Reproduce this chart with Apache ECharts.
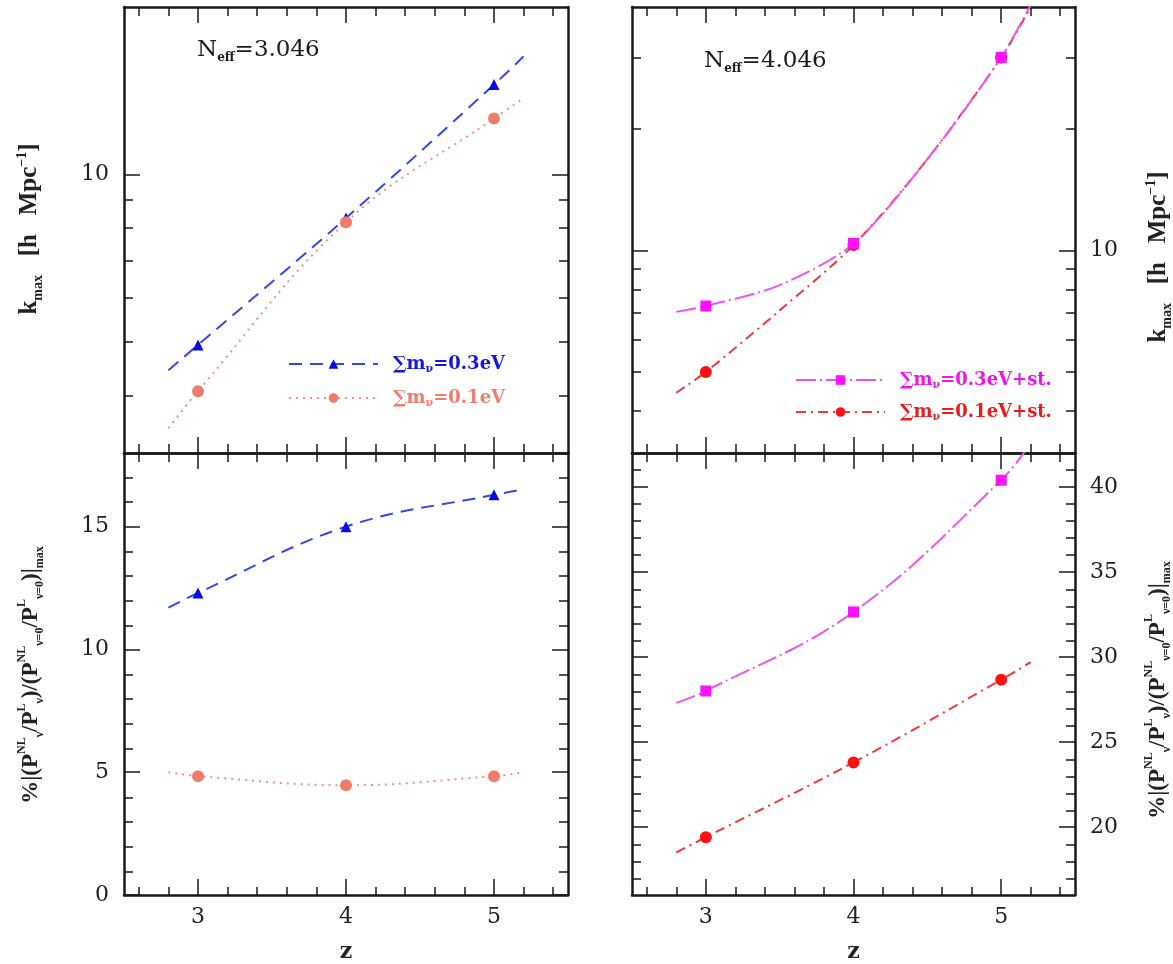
<!DOCTYPE html>
<html>
<head>
<meta charset="utf-8">
<script src="https://cdn.jsdelivr.net/npm/echarts@6/dist/echarts.min.js"></script>
<style>
  html, body { margin: 0; padding: 0; background: #ffffff; }
  #chart { width: 1173px; height: 964px; }
</style>
</head>
<body>
<div id="chart"></div>
<script>
// Redshift samples: curves run from 2.8 to 5.2, measured points sit at 3, 4, 5
const redshift = [2.8, 3, 4, 5, 5.2];
const redshiftSterile = [2.8, 3, 3.5, 4, 4.5, 5, 5.2];
const markedZ = [3, 4, 5];

// k_max [h Mpc^-1], N_eff = 3.046
const kmaxStd03 = [4.44, 4.93, 8.34, 14.5, 16.3];
const kmaxStd01 = [3.49, 4.07, 8.2, 12.6, 13.7];
// k_max [h Mpc^-1], N_eff = 4.046 (with sterile species), sampled on redshiftSterile
const kmaxSt03 = [7.04, 7.28, 8.2, 10.4, 16.8, 30.0, 40.5];
const kmaxSt01 = [4.44, 5.0, 7.1, 10.3, 16.8, 30.0, 40.0];
// suppression percentage at k_max
const pctStd03 = [11.7, 12.3, 15.0, 16.3, 16.5];
const pctStd01 = [5.0, 4.84, 4.47, 4.84, 5.0];
const pctSt03 = [27.3, 28.0, 32.65, 40.4, 42.6];
const pctSt01 = [18.5, 19.4, 23.8, 28.66, 29.7];

// Tick positions
const zMajorTicks = [3, 4, 5];
const zMinorTicks = [2.6, 2.8, 3.2, 3.4, 3.6, 3.8, 4.2, 4.4, 4.6, 4.8, 5.2, 5.4];
const kMajorTicks = [10];
const kMinorTicksLeft = [4, 5, 6, 7, 8, 9];
const kMinorTicksRight = [4, 5, 6, 7, 8, 9, 20, 30];
const pctLeftMajor = [0, 5, 10, 15];
const pctLeftMinor = [1, 2, 3, 4, 6, 7, 8, 9, 11, 12, 13, 14, 16, 17];
const pctRightMajor = [20, 25, 30, 35, 40];
const pctRightMinor = [17, 18, 19, 21, 22, 23, 24, 26, 27, 28, 29, 31, 32, 33, 34, 36, 37, 38, 39, 41];

const SERIF = 'DejaVu Serif';
const TITLE_SERIF = 'Liberation Serif';
const INK = '#1a1a1a';

const panels = [
  { rect: { left: 124, top: 7, width: 444, height: 446 }, yType: 'log', yMin: 3.15, yMax: 20,
    yMajor: kMajorTicks, yMinor: kMinorTicksLeft, labelSide: 'left', xLabels: false },
  { rect: { left: 632, top: 7, width: 443, height: 446 }, yType: 'log', yMin: 3.15, yMax: 40,
    yMajor: kMajorTicks, yMinor: kMinorTicksRight, labelSide: 'right', xLabels: false },
  { rect: { left: 124, top: 453, width: 444, height: 443 }, yType: 'value', yMin: 0, yMax: 18,
    yMajor: pctLeftMajor, yMinor: pctLeftMinor, labelSide: 'left', xLabels: true },
  { rect: { left: 632, top: 453, width: 443, height: 443 }, yType: 'value', yMin: 16, yMax: 42,
    yMajor: pctRightMajor, yMinor: pctRightMinor, labelSide: 'right', xLabels: true }
];

const MAJOR_LEN = 16, MINOR_LEN = 9;
const labelFont = { fontFamily: SERIF, fontSize: 22, color: '#222' };

const grids = [], xAxes = [], yAxes = [];
panels.forEach((p, i) => {
  // main grid carries the frame, major ticks, labels and series; overlay carries minor ticks
  grids.push(Object.assign({ containLabel: false }, p.rect));
  grids.push(Object.assign({ containLabel: false }, p.rect));
  const gMain = 2 * i, gMinor = 2 * i + 1;
  ['bottom', 'top'].forEach(pos => {
    xAxes.push({
      type: 'value', gridIndex: gMain, position: pos, min: 2.5, max: 5.5,
      axisLine: { show: true, onZero: false, lineStyle: { color: INK, width: 2.5 } },
      axisTick: { show: true, inside: true, length: MAJOR_LEN, customValues: zMajorTicks,
                  lineStyle: { color: INK, width: 1.5 } },
      axisLabel: { show: p.xLabels && pos === 'bottom', customValues: zMajorTicks, margin: 11, ...labelFont },
      splitLine: { show: false },
      name: (p.xLabels && pos === 'bottom') ? 'z' : '',
      nameLocation: 'middle', nameGap: 46,
      nameTextStyle: { fontFamily: SERIF, fontSize: 22, fontWeight: 'bold', color: '#222' }
    });
  });
  ['bottom', 'top'].forEach(pos => {
    xAxes.push({
      type: 'value', gridIndex: gMinor, position: pos, min: 2.5, max: 5.5,
      axisLine: { show: false, onZero: false },
      axisTick: { show: true, inside: true, length: MINOR_LEN, customValues: zMinorTicks,
                  lineStyle: { color: INK, width: 1.5 } },
      axisLabel: { show: false }, splitLine: { show: false }
    });
  });
  ['left', 'right'].forEach(pos => {
    yAxes.push({
      type: p.yType, logBase: 10, gridIndex: gMain, position: pos, min: p.yMin, max: p.yMax,
      axisLine: { show: true, onZero: false, lineStyle: { color: INK, width: 2.5 } },
      axisTick: { show: true, inside: true, length: MAJOR_LEN, customValues: p.yMajor,
                  lineStyle: { color: INK, width: 1.5 } },
      axisLabel: { show: pos === p.labelSide, customValues: p.yMajor, margin: 15, ...labelFont },
      splitLine: { show: false }
    });
  });
  ['left', 'right'].forEach(pos => {
    yAxes.push({
      type: p.yType, logBase: 10, gridIndex: gMinor, position: pos, min: p.yMin, max: p.yMax,
      axisLine: { show: false, onZero: false },
      axisTick: { show: true, inside: true, length: MINOR_LEN, customValues: p.yMinor,
                  lineStyle: { color: INK, width: 1.5 } },
      axisLabel: { show: false }, splitLine: { show: false }
    });
  });
});

function curve(zs, values) {
  return zs.map((z, k) => markedZ.indexOf(z) >= 0
    ? { value: [z, values[k]] }
    : { value: [z, values[k]], symbol: 'none' });
}

const styles = {
  std03: { line: '#3448e6', mark: '#0a0ae8', dash: [13, 8], symbol: 'triangle', size: 11 },
  std01: { line: '#f3907f', mark: '#f27c6c', dash: [2, 5], symbol: 'circle', size: 12 },
  st03:  { line: '#ee55ee', mark: '#ff10ff', dash: [20, 4, 2, 4], symbol: 'rect', size: 11 },
  st01:  { line: '#f03a3a', mark: '#ff1010', dash: [10, 5, 2, 5], symbol: 'circle', size: 12 }
};

function makeSeries(name, panelIdx, zs, values, key, smooth) {
  const s = styles[key];
  return {
    name: name, type: 'line', xAxisIndex: 4 * panelIdx, yAxisIndex: 4 * panelIdx,
    data: curve(zs, values), smooth: smooth, symbol: s.symbol, symbolSize: s.size, showSymbol: true,
    lineStyle: { color: s.line, width: 2, type: s.dash },
    itemStyle: { color: s.mark }, clip: true, z: 5
  };
}

const series = [
  makeSeries('k 0.3eV', 0, redshift, kmaxStd03, 'std03', 0.4),
  makeSeries('k 0.1eV', 0, redshift, kmaxStd01, 'std01', 0.4),
  makeSeries('k 0.1eV+st.', 1, redshiftSterile, kmaxSt01, 'st01', 0.3),
  makeSeries('k 0.3eV+st.', 1, redshiftSterile, kmaxSt03, 'st03', 0.3),
  makeSeries('pct 0.3eV', 2, redshift, pctStd03, 'std03', 0.4),
  makeSeries('pct 0.1eV', 2, redshift, pctStd01, 'std01', 0.4),
  makeSeries('pct 0.3eV+st.', 3, redshift, pctSt03, 'st03', 0.4),
  makeSeries('pct 0.1eV+st.', 3, redshift, pctSt01, 'st01', 0.4)
];

const legendLabels = {
  'k 0.3eV': '{m|∑m}{s|ν}{m|=0.3eV}',
  'k 0.1eV': '{m|∑m}{s|ν}{m|=0.1eV}',
  'k 0.3eV+st.': '{m|∑m}{s|ν}{m|=0.3eV+st.}',
  'k 0.1eV+st.': '{m|∑m}{s|ν}{m|=0.1eV+st.}'
};
const legendRich = {
  m: { fontFamily: SERIF, fontSize: 18, fontWeight: 'bold', lineHeight: 22 },
  s: { fontFamily: SERIF, fontSize: 11, fontWeight: 'bold', verticalAlign: 'bottom', lineHeight: 11 }
};
function legendBox(left, top, gap, names, colors) {
  return {
    left: left, top: top, orient: 'vertical', padding: 0, itemGap: gap,
    itemWidth: 89, itemHeight: 12, selectedMode: false,
    data: names.map((n, k) => ({ name: n, textStyle: { color: colors[k] } })),
    formatter: n => legendLabels[n],
    textStyle: { fontFamily: SERIF, fontSize: 18, fontWeight: 'bold', padding: [0, 0, 0, 10], rich: legendRich }
  };
}

const titleRich = {
  t: { fontFamily: TITLE_SERIF, fontSize: 25, fontWeight: 'bold', fill: '#222', lineHeight: 30 },
  s: { fontFamily: TITLE_SERIF, fontSize: 14, fontWeight: 'bold', fill: '#222', verticalAlign: 'bottom', lineHeight: 14 },
  p: { fontFamily: TITLE_SERIF, fontSize: 14, fontWeight: 'bold', fill: '#222', verticalAlign: 'top', lineHeight: 14 }
};
const pctRich = {
  t: { fontFamily: TITLE_SERIF, fontSize: 23, fontWeight: 'bold', fill: '#222', lineHeight: 30 },
  s: { fontFamily: TITLE_SERIF, fontSize: 12, fontWeight: 'bold', fill: '#222', verticalAlign: 'bottom', lineHeight: 12 },
  p: { fontFamily: TITLE_SERIF, fontSize: 12, fontWeight: 'bold', fill: '#222', verticalAlign: 'top', lineHeight: 12 }
};
const kTitle = '{t|k}{s|max}{t|   [h   Mpc}{p|−1}{t|]}';
const pctTitle = '{t|%|(P}{p|NL}{s|ν}{t|/P}{p|L}{s|ν}{t|)/(P}{p|NL}{s|ν=0}{t|/P}{p|L}{s|ν=0}{t|)|}{s|max}';

function vTitle(x, y, text, rich) {
  return { type: 'text', x: x, y: y, rotation: Math.PI / 2, z: 10,
           style: { text: text, rich: rich, align: 'center', verticalAlign: 'middle', fill: '#222' } };
}
const neffRich = {
  t: { fontFamily: SERIF, fontSize: 23, fill: '#1a1a1a', lineHeight: 28 },
  s: { fontFamily: SERIF, fontSize: 12, fontWeight: 'bold', fill: '#1a1a1a', verticalAlign: 'bottom', lineHeight: 12 }
};
function neff(x, y, value) {
  return { type: 'text', x: x, y: y, z: 10,
           style: { text: '{t|N}{s|eff}{t|=' + value + '}', rich: neffRich, align: 'left', verticalAlign: 'middle' } };
}

const option = {
  animation: false,
  backgroundColor: '#ffffff',
  grid: grids,
  xAxis: xAxes,
  yAxis: yAxes,
  series: series,
  legend: [
    legendBox(288, 355, 14, ['k 0.3eV', 'k 0.1eV'], ['#1515e0', '#f27c6c']),
    legendBox(795, 371, 12, ['k 0.3eV+st.', 'k 0.1eV+st.'], ['#f010f0', '#f01818'])
  ],
  graphic: [
    neff(197, 50, '3.046'),
    neff(704, 61, '4.046'),
    vTitle(30, 229, kTitle, titleRich),
    vTitle(1159, 257, kTitle, titleRich),
    vTitle(31, 675, pctTitle, pctRich),
    vTitle(1158, 690, pctTitle, pctRich)
  ]
};

const chart = echarts.init(document.getElementById('chart'), null, { renderer: 'canvas' });
chart.setOption(option);
</script>
</body>
</html>
